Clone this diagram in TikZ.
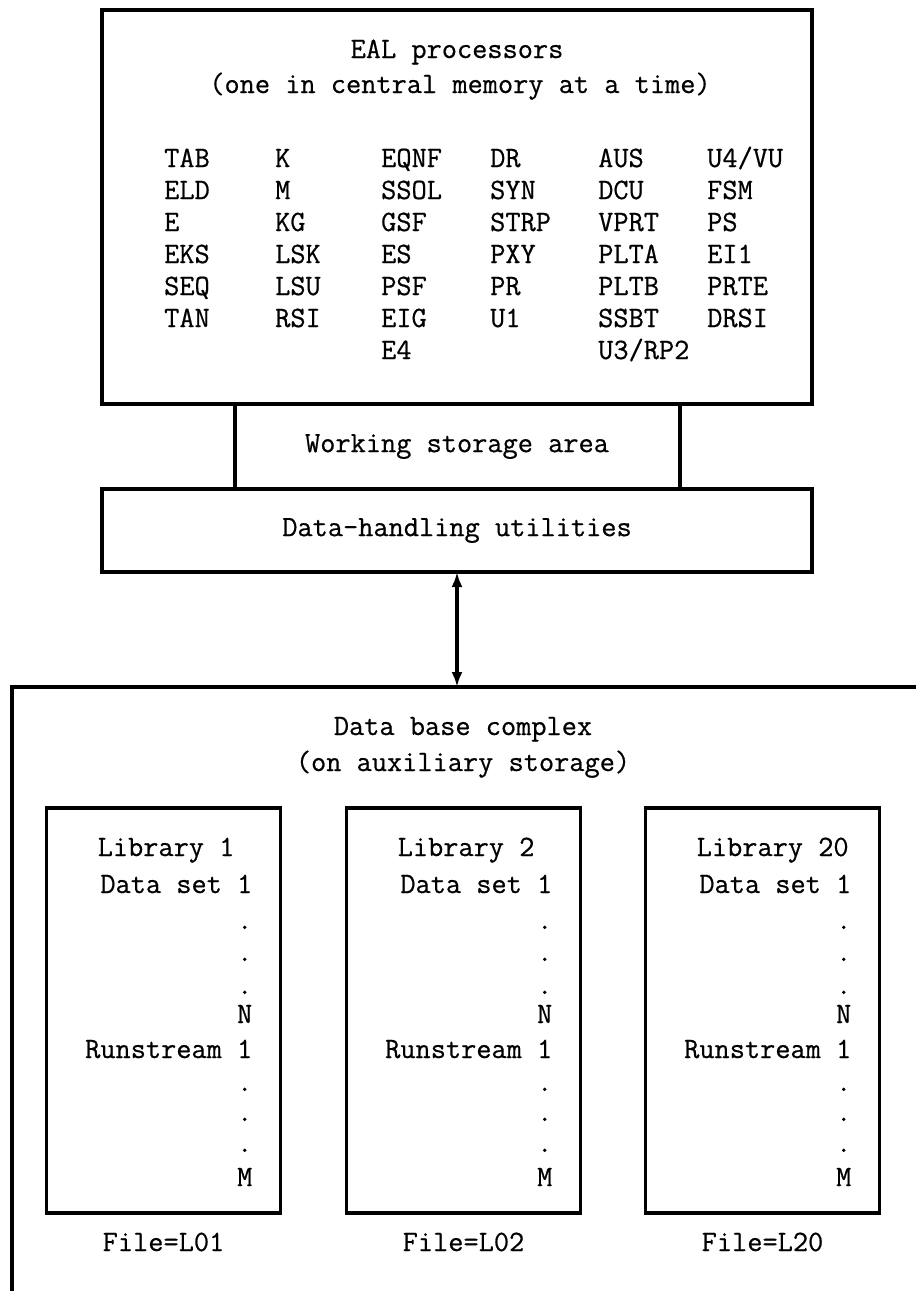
\documentclass[tikz,border=0pt]{standalone}
\usepackage{fontspec}
\newfontfamily\twfont{Latin Modern Mono}[FakeBold=0.6]
\usepackage{tikz}
\usetikzlibrary{positioning,arrows.meta}

\begin{document}
\begin{tikzpicture}[x=1pt,y=-1pt,
  box/.style={draw,line width=4pt,inner sep=0pt,outer sep=0pt},
  libbox/.style={box,line width=3.5pt,minimum width=234pt,minimum height=405pt},
  tw/.style={font=\twfont\fontsize{29.5}{33}\selectfont,inner sep=0pt},
  link/.style={{Latex[length=15pt,width=11pt]}-{Latex[length=15pt,width=11pt]},line width=3.5pt}
]
\useasboundingbox (0,0) rectangle (916,1291);
\clip (0,0) rectangle (916,1291);
\node[box,minimum width=710pt,minimum height=394pt] (eal) at (457,207) {};
\node[tw,anchor=base] (ealt1) at (457,58) {EAL processors};
\node[tw,anchor=base] (ealt2) at (460,93) {(one in central memory at a time)};
\foreach \x/\col [count=\c] in {164/{TAB,ELD,E,EKS,SEQ,TAN},275/{K,M,KG,LSK,LSU,RSI},
    381/{EQNF,SSOL,GSF,ES,PSF,EIG,E4},490/{DR,SYN,STRP,PXY,PR,U1},
    598/{AUS,DCU,VPRT,PLTA,PLTB,SSBT,U3/RP2},707/{U4/VU,FSM,PS,EI1,PRTE,DRSI}}
  \foreach \nm [count=\r] in \col
    \node[tw,anchor=base west] (p\c-\r) at (\x,{135+32*\r}) {\nm};
\node[box,tw,minimum width=445pt,minimum height=85pt,below=0pt of eal] (ws) {Working storage area};
\node[box,tw,minimum width=710pt,minimum height=83pt,below=0pt of ws] (dh) {Data-handling utilities};
\node[box,minimum width=1000pt,minimum height=700pt,anchor=north west] (dbc) at (12,687) {};
\draw[link] (dh.south) -- (dh.south |- dbc.north);
\node[tw,anchor=base] (dbct1) at (463,735) {Data base complex};
\node[tw,anchor=base] (dbct2) at (463,771) {(on auxiliary storage)};
\foreach \i/\x/\lab/\fl in {1/163.5/1/L01,2/463.5/2/L02,3/762.5/20/L20} {
  \node[libbox] (lib\i) at (\x,1010.5) {};
  \node[tw,anchor=base west] (lt\i) at ([shift={(-183,48)}]lib\i.north east) {Library \lab};
  \foreach \t/\dy [count=\k] in {Data set 1/85,./121,./153,./186,N/215,Runstream 1/250,./283,./313,./344,M/378}
    \node[tw,anchor=base east] (l\i-\k) at ([shift={(-28,\dy)}]lib\i.north east) {\t};
  \node[tw,anchor=base] (file\i) at ([shift={(0,38)}]lib\i.south) {File=\fl};
}
\end{tikzpicture}
\end{document}
